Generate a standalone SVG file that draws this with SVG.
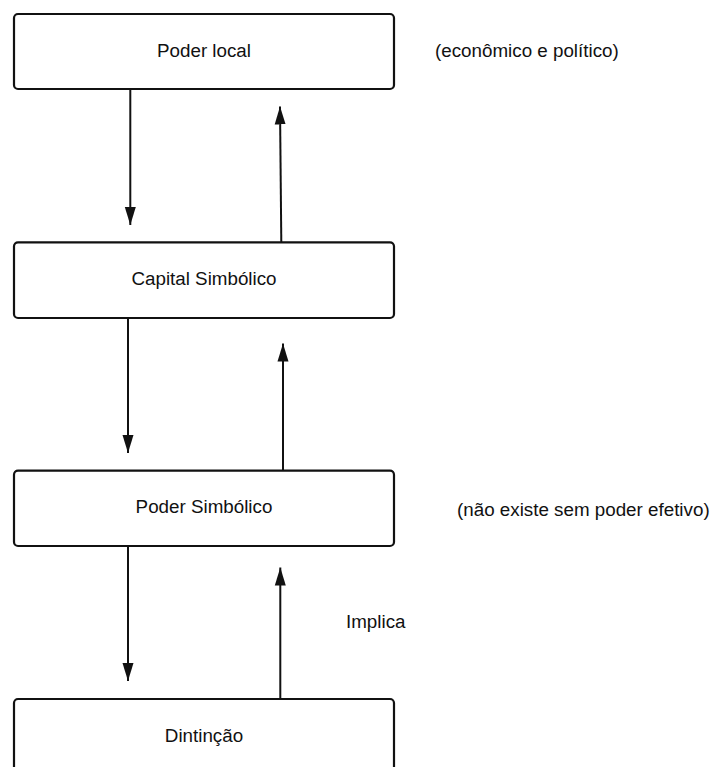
<svg xmlns="http://www.w3.org/2000/svg" width="714" height="767" viewBox="0 0 714 767">
<style>
.box{fill:#fff;stroke:#111;stroke-width:2.2}
.t{font-family:"Liberation Sans",Arial,sans-serif;font-size:18.8px;fill:#111}
.c{text-anchor:middle}
.ln{stroke:#111;stroke-width:2;fill:none}
</style>
<defs>
<marker id="ah" viewBox="0 0 18 20" refX="18" refY="10" markerWidth="18" markerHeight="20" markerUnits="userSpaceOnUse" orient="auto">
<path d="M0,4.5 L18,10 L0,15.5 Z" fill="#111"/>
</marker>
</defs>
<rect width="714" height="767" fill="#fff"/>
<g id="connectors">
<line class="ln" x1="130.3" y1="89" x2="130.3" y2="225" marker-end="url(#ah)"/>
<line class="ln" x1="281.3" y1="242" x2="280" y2="106.5" marker-end="url(#ah)"/>
<line class="ln" x1="128" y1="318" x2="128" y2="453" marker-end="url(#ah)"/>
<line class="ln" x1="283" y1="470" x2="283" y2="343.5" marker-end="url(#ah)"/>
<line class="ln" x1="128" y1="546" x2="128" y2="681" marker-end="url(#ah)"/>
<line class="ln" x1="280.3" y1="699" x2="280.3" y2="567.5" marker-end="url(#ah)"/>
</g>
<g id="node-poder-local">
<rect class="box" x="14" y="14" width="380" height="75" rx="4"/>
<text class="t c" x="204" y="56.5">Poder local</text>
</g>
<g id="node-capital-simbolico">
<rect class="box" x="14" y="242.3" width="380" height="75.7" rx="4"/>
<text class="t c" x="204" y="284.5">Capital Simbólico</text>
</g>
<g id="node-poder-simbolico">
<rect class="box" x="14" y="470.7" width="380" height="75.3" rx="4"/>
<text class="t c" x="204" y="512.8">Poder Simbólico</text>
</g>
<g id="node-distincao">
<rect class="box" x="14" y="699" width="380" height="80" rx="4"/>
<text class="t c" x="204" y="741.5">Dintinção</text>
</g>
<g id="labels">
<text class="t" x="435" y="57">(econômico e político)</text>
<text class="t" x="457" y="516">(não existe sem poder efetivo)</text>
<text class="t" x="346" y="627.5">Implica</text>
</g>
</svg>
